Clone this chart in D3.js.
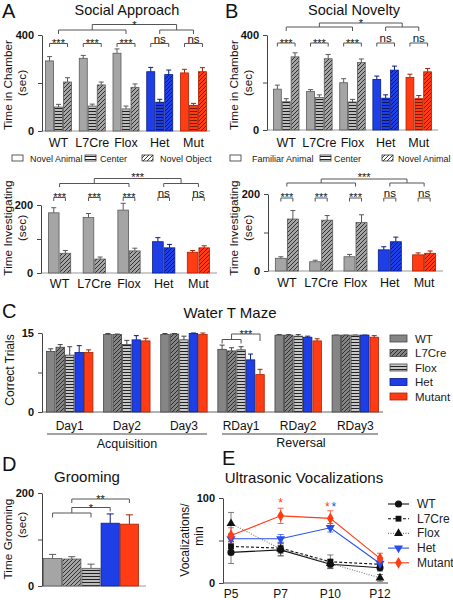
<!DOCTYPE html>
<html><head><meta charset="utf-8">
<script src="https://cdn.jsdelivr.net/npm/d3@7"></script>
<style>body{margin:0;background:#fff}svg{display:block;font-family:"Liberation Sans",Arial,sans-serif}</style>
</head><body><svg id="c" width="453" height="600"></svg>
<script>
// ---------------- DATA ----------------
const genotypes = ["WT","L7Cre","Flox","Het","Mut"];
// A top: Social Approach, time in chamber (sec)
const saNovelAnimal = [292,303,324,247,242];
const saNovelAnimalErr = [18,12,18,18,15];
const saCenter = [100,104,92,120,107];
const saCenterErr = [11,8,12,12,8];
const saNovelObject = [204,192,182,235,247];
const saNovelObjectErr = [18,12,14,19,17];
// A bottom: time investigating (sec)
const saInvAnimal = [177,163,185,92,61];
const saInvAnimalErr = [15,12,20,12,5];
const saInvObject = [58,41,65,74,74];
const saInvObjectErr = [8,6,8,10,6];
// B top: Social Novelty, time in chamber (sec)
const snFamiliar = [172,162,199,213,221];
const snFamiliarErr = [17,8,17,14,14];
const snCenter = [119,137,118,134,132];
const snCenterErr = [13,11,11,14,13];
const snNovel = [308,300,284,252,245];
const snNovelErr = [17,18,15,17,14];
// B bottom: time investigating (sec)
const snInvFamiliar = [33,24,37,55,42];
const snInvFamiliarErr = [4,4,6,8,5];
const snInvNovel = [135,132,126,76,46];
const snInvNovelErr = [22,12,20,12,6];
// C: Water T maze, correct trials
const mazeDays = ["Day1","Day2","Day3","RDay1","RDay2","RDay3"];
const mazeGroups = ["WT","L7Cre","Flox","Het","Mutant"];
const mazeWT = [11.5,14.7,14.7,11.9,14.6,14.6];
const mazeWTErr = [0.5,0.2,0.2,0.8,0.1,0];
const mazeL7Cre = [12.3,14.7,14.8,11.6,14.6,14.6];
const mazeL7CreErr = [0.5,0.1,0.1,0.6,0.1,0];
const mazeFlox = [10.8,12.8,13.7,11.8,14.4,14.6];
const mazeFloxErr = [1.6,0.8,0.7,0.6,0.3,0];
const mazeHet = [11.3,13.7,14.9,9.9,14.2,14.6];
const mazeHetErr = [1.3,0.8,0.1,1.1,0.2,0];
const mazeMutant = [11.3,13.5,14.7,7.1,13.5,14.2];
const mazeMutantErr = [0.5,0.5,0.3,1.0,0.4,0.3];
// D: grooming (sec)
const groomGroups = ["WT","L7Cre","Flox","Het","Mutant"];
const groomValues = [59,58,38,135,133];
const groomErr = [9,5,9,20,20];
// E: ultrasonic vocalizations per min
const usvAges = ["P5","P7","P10","P12"];
const usvWT = [36,39,22,18];
const usvWTErr = [13,7,5,4];
const usvL7Cre = [43,41,25,22];
const usvL7CreErr = [6,6,8,5];
const usvFlox = [70,40,23,6];
const usvFloxErr = [13,8,5,4];
const usvHet = [52,52,65,23];
const usvHetErr = [6,5,5,4];
const usvMutant = [56,79,76,29];
const usvMutantErr = [9,9,9,6];

// ---------------- STYLE ----------------
const COL = {
  gray: {fill:"#a5a5a5", stroke:"#5a5a5a", light:"#bdbdbd"},
  dgray:{fill:"#858585", stroke:"#444", light:"#c8c8c8"},
  blue: {fill:"#1f3fe6", stroke:"#0b1c80", light:"#1f3fe6"},
  red:  {fill:"#ff3c14", stroke:"#a82200", light:"#ff3c14"},
  white:{fill:"#ffffff", stroke:"#333", light:"#ffffff"}
};
const svg = d3.select("#c");
const defs = svg.append("defs");
function makePattern(id, bg, type, lineCol){
  const s = type==="h" ? 3 : 4;
  const p = defs.append("pattern").attr("id",id).attr("patternUnits","userSpaceOnUse")
    .attr("width",s).attr("height",s);
  p.append("rect").attr("width",s).attr("height",s).attr("fill",bg);
  if(type==="h") p.append("line").attr("x1",0).attr("x2",s).attr("y1",0.5).attr("y2",0.5)
      .attr("stroke",lineCol).attr("stroke-width",1);
  else p.append("path").attr("d","M-1,1 L1,-1 M0,4 L4,0 M3,5 L5,3")
      .attr("stroke",lineCol).attr("stroke-width",0.9);
}
Object.keys(COL).forEach(k=>{
  const lc = k==="blue"?"#0a1660":k==="red"?"#7a1800":"#222";
  makePattern("h-"+k, COL[k].light, "h", lc);
  makePattern("d-"+k, COL[k].fill, "d", lc);
});
function fillFor(colKey, pat){
  if(pat==="solid") return COL[colKey].fill;
  return `url(#${pat}-${colKey})`;
}
const genoColor = i => i<3 ? "gray" : (i===3 ? "blue" : "red");

function txt(x,y,s,size,opts={}){
  const t = svg.append("text").attr("x",x).attr("y",y).text(s)
    .attr("font-size",size).attr("fill",opts.fill||"#111")
    .attr("text-anchor",opts.anchor||"middle");
  if(opts.bold) t.attr("font-weight","bold");
  if(opts.rotate) t.attr("transform",`rotate(-90,${x},${y})`);
  return t;
}
function bracket(x1,x2,y,t1=4,t2=4,col="#555"){
  svg.append("path").attr("d",`M${x1},${y+t1}V${y}H${x2}V${y+t2}`)
    .attr("fill","none").attr("stroke",col).attr("stroke-width",1);
}
function yAxis(x, yScale, max){
  const ax = d3.axisLeft(yScale).tickValues([0,max/2,max]).tickSize(4).tickSizeOuter(0)
    .tickFormat(d => d===max/2 ? "" : d);
  const g = svg.append("g").attr("transform",`translate(${x},0)`).call(ax);
  g.select(".domain").attr("stroke","#444");
  g.selectAll(".tick line").attr("stroke","#444");
  g.selectAll(".tick text").attr("font-size",11).attr("font-weight","bold")
    .attr("fill","#111").attr("font-family","Liberation Sans, Arial, sans-serif").attr("dx",-1);
  return g;
}

// generic grouped bar panel
function barPanel(cfg){
  const xg = d3.scaleBand().domain(cfg.groups).range(cfg.xRange)
    .paddingInner(cfg.padIn).paddingOuter(cfg.padOut);
  const xs = d3.scaleBand().domain(d3.range(cfg.series.length)).range([0, xg.bandwidth()]);
  const y = d3.scaleLinear().domain([0,cfg.max]).range(cfg.yRange);
  svg.append("line").attr("x1",cfg.xRange[0]).attr("x2",cfg.xRange[1])
    .attr("y1",y(0)).attr("y2",y(0)).attr("stroke",cfg.baseCol||"#999").attr("stroke-width",1);
  cfg.series.forEach((s,si)=>{
    cfg.groups.forEach((gname,gi)=>{
      const ck = cfg.colorOf(gi,si);
      const x0 = xg(gname)+xs(si), w = xs.bandwidth();
      const yv = y(s.vals[gi]);
      const cx = x0 + w/2, ye = y(s.vals[gi]+s.errs[gi]);
      svg.append("line").attr("x1",cx).attr("x2",cx).attr("y1",yv).attr("y2",ye)
        .attr("stroke",COL[ck].stroke).attr("stroke-width",1);
      svg.append("line").attr("x1",cx-2.5).attr("x2",cx+2.5).attr("y1",ye).attr("y2",ye)
        .attr("stroke",COL[ck].stroke).attr("stroke-width",1);
      svg.append("rect").attr("x",x0+0.5).attr("y",yv).attr("width",w-1).attr("height",y(0)-yv)
        .attr("fill",fillFor(ck, cfg.patOf(gi,si))).attr("stroke",COL[ck].stroke).attr("stroke-width",0.8);
    });
  });
  yAxis(cfg.xRange[0], y, cfg.max);
  if(cfg.labelY!=null){
    cfg.groups.forEach(gname=>{
      txt(xg(gname)+xg.bandwidth()/2, cfg.labelY, gname, cfg.labelSize||12.5);
    });
  }
  return {xg, xs, y,
    barC:(gi,si)=>xg(cfg.groups[gi])+xs(si)+xs.bandwidth()/2,
    grpC:(gi)=>xg(cfg.groups[gi])+xg.bandwidth()/2};
}

// ---------------- PANEL A ----------------
txt(2,18,"A",20,{anchor:"start"});
txt(127,15,"Social Approach",14.5);
txt(12,85,"Time in Chamber",11.8,{rotate:true});
txt(26,83,"(sec)",11.8,{rotate:true});
const pA = barPanel({
  groups:genotypes, xRange:[42,210], padIn:0.2, padOut:0.09, yRange:[131,35], max:400,
  series:[{vals:saNovelAnimal,errs:saNovelAnimalErr},{vals:saCenter,errs:saCenterErr},{vals:saNovelObject,errs:saNovelObjectErr}],
  colorOf:(gi)=>genoColor(gi), patOf:(gi,si)=>["solid","h","d"][si], labelY:147
});
genotypes.forEach((g,gi)=>{
  bracket(pA.barC(gi,0), pA.barC(gi,2), 43.5, 3.5, 3.5);
  if(gi<3) txt((pA.barC(gi,0)+pA.barC(gi,2))/2, 47, "***", 11);
  else txt((pA.barC(gi,0)+pA.barC(gi,2))/2, 42.5, "ns", 11.5);
});
{
  const l1=pA.grpC(0), l2=pA.grpC(2), r1=pA.grpC(3), r2=pA.grpC(4);
  bracket(l1,l2,30,4,4); bracket(r1,r2,30,4,4);
  bracket((l1+l2)/2,(r1+r2)/2,24.5,5.5,5.5);
  txt(((l1+l2)/2+(r1+r2)/2)/2, 28.5, "*", 11);
}
// legend A
const legA = [{k:"solid",t:"Novel Animal",bx:12,tx:30},{k:"h",t:"Center",bx:85,tx:100},{k:"d",t:"Novel Object",bx:142,tx:160}];
legA.forEach(l=>{
  svg.append("rect").attr("x",l.bx).attr("y",155).attr("width",11).attr("height",6)
    .attr("fill",fillFor("white",l.k)).attr("stroke","#333").attr("stroke-width",0.8);
  txt(l.tx,161.5,l.t,9,{anchor:"start",fill:"#222"});
});
txt(12,228,"Time Investigating",11.8,{rotate:true});
txt(26,228,"(sec)",11.8,{rotate:true});
const pA2 = barPanel({
  groups:genotypes, xRange:[41,217], padIn:0.33, padOut:0.2, yRange:[273,205], max:200,
  series:[{vals:saInvAnimal,errs:saInvAnimalErr},{vals:saInvObject,errs:saInvObjectErr}],
  colorOf:(gi)=>genoColor(gi), patOf:(gi,si)=>["solid","d"][si], labelY:288
});
genotypes.forEach((g,gi)=>{
  bracket(pA2.barC(gi,0), pA2.barC(gi,1), 197.5, 3.5, 3.5);
  if(gi<3) txt((pA2.barC(gi,0)+pA2.barC(gi,1))/2, 200.5, "***", 11);
  else txt((pA2.barC(gi,0)+pA2.barC(gi,1))/2, 196.5, "ns", 11.5);
});
{
  const l1=pA2.grpC(0), l2=pA2.grpC(2), r1=pA2.grpC(3), r2=pA2.grpC(4);
  bracket(l1,l2,183.5,3.5,3.5); bracket(r1,r2,183.5,3.5,3.5);
  bracket((l1+l2)/2,(r1+r2)/2,178.5,5,5);
  txt(((l1+l2)/2+(r1+r2)/2)/2, 181, "***", 11);
}

// ---------------- PANEL B ----------------
txt(225,18,"B",20,{anchor:"start"});
txt(354,15,"Social Novelty",14.5);
txt(238,85,"Time in Chamber",11.8,{rotate:true});
txt(252,83,"(sec)",11.8,{rotate:true});
const pB = barPanel({
  groups:genotypes, xRange:[267,438], padIn:0.2, padOut:0.18, yRange:[130,35], max:400,
  series:[{vals:snFamiliar,errs:snFamiliarErr},{vals:snCenter,errs:snCenterErr},{vals:snNovel,errs:snNovelErr}],
  colorOf:(gi)=>genoColor(gi), patOf:(gi,si)=>["solid","h","d"][si], labelY:147
});
genotypes.forEach((g,gi)=>{
  bracket(pB.barC(gi,0), pB.barC(gi,2), 43, 3.5, 3.5);
  if(gi<3) txt((pB.barC(gi,0)+pB.barC(gi,2))/2, 46.5, "***", 11);
  else txt((pB.barC(gi,0)+pB.barC(gi,2))/2, 42, "ns", 11.5);
});
{
  const l1=pB.grpC(0), l2=pB.grpC(2), r1=pB.grpC(3), r2=pB.grpC(4);
  bracket(l1,l2,27,4,4); bracket(r1,r2,27,4,4);
  bracket((l1+l2)/2,(r1+r2)/2,23,4,4);
  txt(((l1+l2)/2+(r1+r2)/2)/2, 27, "*", 11);
}
const legB = [{k:"solid",t:"Familiar Animal",bx:230,tx:252},{k:"h",t:"Center",bx:320,tx:334},{k:"d",t:"Novel Animal",bx:382,tx:398}];
legB.forEach(l=>{
  svg.append("rect").attr("x",l.bx).attr("y",155).attr("width",11).attr("height",6)
    .attr("fill",fillFor("white",l.k)).attr("stroke","#333").attr("stroke-width",0.8);
  txt(l.tx,161.5,l.t,9,{anchor:"start",fill:"#222"});
});
txt(238,228,"Time Investigating",11.8,{rotate:true});
txt(252,228,"(sec)",11.8,{rotate:true});
const pB2 = barPanel({
  groups:genotypes, xRange:[268,443], padIn:0.3, padOut:0.2, yRange:[271,194], max:200,
  series:[{vals:snInvFamiliar,errs:snInvFamiliarErr},{vals:snInvNovel,errs:snInvNovelErr}],
  colorOf:(gi)=>genoColor(gi), patOf:(gi,si)=>["solid","d"][si], labelY:287
});
genotypes.forEach((g,gi)=>{
  bracket(pB2.barC(gi,0), pB2.barC(gi,1), 198, 3.5, 3.5);
  if(gi<3) txt((pB2.barC(gi,0)+pB2.barC(gi,1))/2, 200.5, "***", 11);
  else txt((pB2.barC(gi,0)+pB2.barC(gi,1))/2, 196.5, "ns", 11.5);
});
{
  const l1=pB2.grpC(0), l2=pB2.grpC(2), r1=pB2.grpC(3), r2=pB2.grpC(4);
  bracket(l1,l2,183,3.5,3.5); bracket(r1,r2,183,3.5,3.5);
  bracket((l1+l2)/2,(r1+r2)/2,179,4,4);
  txt(((l1+l2)/2+(r1+r2)/2)/2, 181, "***", 11);
}

// ---------------- PANEL C ----------------
txt(2,318,"C",20,{anchor:"start"});
txt(230,318,"Water T Maze",15);
txt(14,370,"Correct  Trials",12,{rotate:true});
const mazeSeries = [
  {vals:mazeWT,errs:mazeWTErr,col:"dgray",pat:"solid"},
  {vals:mazeL7Cre,errs:mazeL7CreErr,col:"dgray",pat:"d"},
  {vals:mazeFlox,errs:mazeFloxErr,col:"dgray",pat:"h"},
  {vals:mazeHet,errs:mazeHetErr,col:"blue",pat:"solid"},
  {vals:mazeMutant,errs:mazeMutantErr,col:"red",pat:"solid"}
];
const pC = barPanel({
  groups:mazeDays, xRange:[42,383], padIn:0.17, padOut:0.07, yRange:[412,333], max:15,
  series:mazeSeries, colorOf:(gi,si)=>mazeSeries[si].col, patOf:(gi,si)=>mazeSeries[si].pat,
  labelY:430, labelSize:12, baseCol:"#666"
});
{
  const a=pC.barC(3,0), b=pC.barC(3,2), m=pC.barC(3,4);
  bracket(a,b,339.5,4,4);
  bracket((a+b)/2,m,334,5.5,7);
  txt(((a+b)/2+m)/2, 337.5, "***", 11);
}
svg.append("line").attr("x1",47).attr("x2",207).attr("y1",434).attr("y2",434).attr("stroke","#444");
svg.append("line").attr("x1",222).attr("x2",378).attr("y1",434).attr("y2",434).attr("stroke","#444");
txt(127,448,"Acquisition",12.5);
txt(301,447,"Reversal",12.5);
mazeSeries.forEach((s,i)=>{
  const yy = 335 + i*14.5;
  svg.append("rect").attr("x",390).attr("y",yy).attr("width",17).attr("height",7)
    .attr("fill",fillFor(s.col, s.pat))
    .attr("stroke",COL[s.col].stroke).attr("stroke-width",0.8);
  txt(415,yy+7.5,mazeGroups[i],11.5,{anchor:"start",fill:"#222"});
});

// ---------------- PANEL D ----------------
txt(2,471,"D",20,{anchor:"start"});
txt(87,482,"Grooming",15);
txt(12,539,"Time Grooming",11.8,{rotate:true});
txt(26,525,"(sec)",11.8,{rotate:true});
{
  const x = d3.scaleBand().domain(groomGroups).range([43,139]);
  const y = d3.scaleLinear().domain([0,200]).range([586,493]);
  const cols = ["gray","gray","gray","blue","red"], pats = ["solid","d","h","solid","solid"];
  svg.append("line").attr("x1",42).attr("x2",146).attr("y1",586).attr("y2",586).attr("stroke","#999");
  groomGroups.forEach((g,i)=>{
    const ck = cols[i], cx = x(g)+x.bandwidth()/2, ye = y(groomValues[i]+groomErr[i]);
    svg.append("line").attr("x1",cx).attr("x2",cx).attr("y1",y(groomValues[i])).attr("y2",ye).attr("stroke",COL[ck].stroke);
    svg.append("line").attr("x1",cx-3.5).attr("x2",cx+3.5).attr("y1",ye).attr("y2",ye).attr("stroke",COL[ck].stroke);
    svg.append("rect").attr("x",x(g)+0.5).attr("y",y(groomValues[i])).attr("width",x.bandwidth()-1)
      .attr("height",y(0)-y(groomValues[i])).attr("fill",fillFor(ck,pats[i]))
      .attr("stroke",COL[ck].stroke).attr("stroke-width",0.8);
  });
  yAxis(42,y,200);
  const c = g=>x(g)+x.bandwidth()/2;
  const mid = (c("WT")+c("Flox"))/2;
  bracket(c("WT"),c("Flox"),513,4.5,4.5);
  bracket(mid,c("Het"),507.5,5.5,4);
  bracket(mid,c("Mutant"),499,4,4);
  txt((mid+c("Het"))/2, 512, "*", 11);
  txt((mid+c("Mutant"))/2, 503, "**", 11);
}

// ---------------- PANEL E ----------------
txt(222,465,"E",20,{anchor:"start"});
txt(304,483,"Ultrasonic  Vocalizations",15);
txt(189,540,"Vocalizations/",12,{rotate:true});
txt(203,536,"min",12,{rotate:true});
{
  const x = d3.scalePoint().domain(usvAges).range([231,380]);
  const y = d3.scaleLinear().domain([0,100]).range([583,498]);
  svg.append("line").attr("x1",223).attr("x2",388).attr("y1",583).attr("y2",583).attr("stroke","#444");
  yAxis(223,y,100);
  usvAges.forEach(a=>txt(x(a),598,a,12));
  const series = [
    {name:"WT",vals:usvWT,errs:usvWTErr,col:"#111",dash:null,sym:d3.symbolCircle,ecol:"#555"},
    {name:"L7Cre",vals:usvL7Cre,errs:usvL7CreErr,col:"#111",dash:"3,2",sym:d3.symbolSquare,ecol:"#555"},
    {name:"Flox",vals:usvFlox,errs:usvFloxErr,col:"#777",dash:"1,1.5",sym:d3.symbolTriangle,ecol:"#555",mcol:"#111"},
    {name:"Het",vals:usvHet,errs:usvHetErr,col:"#2a4fe8",dash:null,sym:"down",ecol:"#2a4fe8"},
    {name:"Mutant",vals:usvMutant,errs:usvMutantErr,col:"#ff3c14",dash:null,sym:d3.symbolDiamond,ecol:"#ff3c14"}
  ];
  const line = d3.line().x((d,i)=>x(usvAges[i])).y(d=>y(d));
  function marker(s, cx, cy){
    if(s.sym==="down"){
      svg.append("path").attr("d",d3.symbol(d3.symbolTriangle,36)()).attr("transform",`translate(${cx},${cy}) rotate(180)`)
        .attr("fill",s.col);
    } else {
      const sz = s.sym===d3.symbolDiamond?40:(s.sym===d3.symbolCircle?40:34);
      svg.append("path").attr("d",d3.symbol(s.sym,sz)()).attr("transform",`translate(${cx},${cy})`)
        .attr("fill",s.mcol||s.col);
    }
  }
  series.forEach(s=>{
    s.vals.forEach((v,i)=>{
      const cx = x(usvAges[i]);
      svg.append("path").attr("d",`M${cx},${y(v-s.errs[i])}V${y(v+s.errs[i])}M${cx-3},${y(v-s.errs[i])}H${cx+3}M${cx-3},${y(v+s.errs[i])}H${cx+3}`)
        .attr("stroke",s.ecol).attr("stroke-width",0.9).attr("fill","none").attr("opacity",0.85);
    });
  });
  series.forEach(s=>{
    svg.append("path").datum(s.vals).attr("d",line).attr("fill","none").attr("stroke",s.col)
      .attr("stroke-width",1.1).attr("stroke-dasharray",s.dash);
    s.vals.forEach((v,i)=>marker(s,x(usvAges[i]),y(v)));
  });
  txt(x("P7"),507,"*",12,{fill:"#ff3c14"});
  txt(x("P10")-3,511,"*",12,{fill:"#ff3c14"});
  txt(x("P10")+3.5,511,"*",12,{fill:"#2a4fe8"});
  series.forEach((s,i)=>{
    const yy = 504 + i*14.7;
    svg.append("line").attr("x1",388).attr("x2",409).attr("y1",yy).attr("y2",yy)
      .attr("stroke",s.col).attr("stroke-width",1.1).attr("stroke-dasharray",s.dash);
    marker(s,398.5,yy);
    txt(417,yy+4,s.name,12,{anchor:"start",fill:"#222"});
  });
}
</script></body></html>
